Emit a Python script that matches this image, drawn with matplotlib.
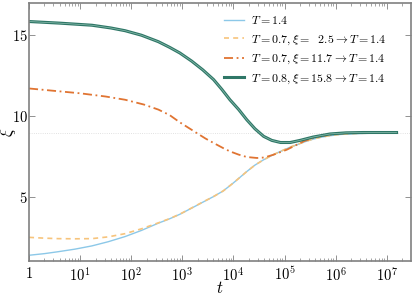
#!/usr/bin/env python3
"""Relaxation of the correlation length xi after a temperature quench to T = 1.4."""

import matplotlib

matplotlib.use("Agg")
import matplotlib.pyplot as plt
from matplotlib.ticker import FixedLocator, FuncFormatter, LogLocator, NullFormatter
import numpy as np

# log10(t) and xi
logt_eq = [0.0, 0.3, 0.57, 0.9, 1.23, 1.55, 1.88, 2.2, 2.53, 2.75, 2.95, 3.18, 3.4, 3.61, 3.8,
           4.0, 4.26, 4.42, 4.59, 4.75, 4.92, 5.08, 5.24, 5.4, 5.56, 5.72, 5.89, 6.1, 6.4, 6.8, 7.19]
xi_eq = [1.36, 1.46, 1.58, 1.74, 1.94, 2.2, 2.52, 2.9, 3.35, 3.62, 3.9, 4.28, 4.65, 5.0, 5.35,
         5.85, 6.55, 6.95, 7.28, 7.55, 7.8, 8.02, 8.21, 8.4, 8.56, 8.68, 8.77, 8.85, 8.9, 8.93, 8.94]

logt_q25 = [0.0, 0.3, 0.57, 0.9, 1.23, 1.55, 1.88, 2.2, 2.53, 2.75, 2.95, 3.18, 3.4, 3.61, 3.8,
            4.0, 4.26, 4.42, 4.59, 4.75, 4.92, 5.08, 5.24, 5.4, 5.56, 5.72, 5.89, 6.1, 6.4, 6.8, 7.19]
xi_q25 = [2.47, 2.42, 2.39, 2.38, 2.39, 2.5, 2.7, 3.0, 3.37, 3.63, 3.91, 4.29, 4.66, 5.0, 5.35,
          5.85, 6.55, 6.95, 7.28, 7.55, 7.8, 8.03, 8.22, 8.41, 8.57, 8.69, 8.78, 8.86, 8.91, 8.94, 8.95]

logt_q117 = [0.0, 0.5, 1.0, 1.5, 1.88, 2.25, 2.53, 2.75, 2.95, 3.2, 3.45, 3.61, 3.8, 3.93, 4.1,
             4.26, 4.46, 4.6, 4.78, 5.04, 5.2, 5.37, 5.55, 5.69, 6.02, 6.5, 7.19]
xi_q117 = [11.7, 11.55, 11.4, 11.2, 11.0, 10.7, 10.39, 10.05, 9.6, 9.1, 8.6, 8.32, 8.0, 7.8, 7.6,
           7.45, 7.39, 7.42, 7.59, 7.9, 8.15, 8.42, 8.62, 8.73, 8.9, 8.96, 8.96]

logt_q158 = [0.0, 0.6, 1.23, 1.6, 1.88, 2.2, 2.53, 2.75, 2.95, 3.18, 3.4, 3.61, 3.77, 3.93, 4.1,
             4.26, 4.42, 4.59, 4.75, 4.92, 5.11, 5.3, 5.56, 5.89, 6.2, 6.54, 7.19]
xi_q158 = [15.85, 15.75, 15.62, 15.45, 15.28, 15.0, 14.6, 14.25, 13.9, 13.4, 12.85, 12.25, 11.65,
           11.0, 10.4, 9.76, 9.2, 8.73, 8.48, 8.35, 8.35, 8.48, 8.69, 8.88, 8.95, 8.97, 8.97]

xi_ref = 8.95

labels = [
    r"$T = 1.4$",
    r"$T = 0.7, \xi =\ \ 2.5 \rightarrow T = 1.4$",
    r"$T = 0.7, \xi = 11.7 \rightarrow T = 1.4$",
    r"$T = 0.8, \xi = 15.8 \rightarrow T = 1.4$",
]
x_ticks = [1, 1e1, 1e2, 1e3, 1e4, 1e5, 1e6, 1e7]
y_ticks = [5, 10, 15]

plt.rcParams["mathtext.fontset"] = "cm"
plt.rcParams["font.family"] = "DejaVu Serif"

fig = plt.figure(figsize=(4.15, 2.97), dpi=100)
ax = fig.add_axes([0.070, 0.121, 0.920, 0.869])

ax.axhline(xi_ref, color="#D8D8D8", lw=0.6, ls=":", zorder=1)

t = lambda lt: 10 ** np.asarray(lt)
(l1,) = ax.plot(t(logt_eq), xi_eq, color="#8CC8E8", lw=1.0, label=labels[0])
(l2,) = ax.plot(t(logt_q25), xi_q25, color="#F7C47C", lw=1.2, ls=(0, (3, 2.5)), label=labels[1])
(l3,) = ax.plot(t(logt_q117), xi_q117, color="#E07432", lw=1.3, ls=(0, (5, 2, 1, 2)), label=labels[2])
(l4,) = ax.plot(t(logt_q158), xi_q158, color="#2F7767", lw=2.2, label=labels[3])
ax.plot(t(logt_q158), xi_q158, color="#8DBFB0", lw=0.5)

ax.set_xscale("log")
ax.set_xlim(1, 2.95e7)
ax.set_ylim(1, 17)

ax.xaxis.set_major_locator(FixedLocator(x_ticks))
ax.xaxis.set_minor_locator(LogLocator(base=10, subs=np.arange(2, 10), numticks=20))
ax.xaxis.set_minor_formatter(NullFormatter())
ax.xaxis.set_major_formatter(
    FuncFormatter(lambda v, p: "$1$" if v == 1 else r"$10^{%d}$" % round(np.log10(v)))
)
ax.yaxis.set_major_locator(FixedLocator(y_ticks))
ax.yaxis.set_major_formatter(FuncFormatter(lambda v, p: "$%d$" % v))

ax.tick_params(which="both", direction="in", top=True, right=True, color="#808080", labelsize=10.5)
ax.tick_params(which="major", length=4, width=0.6)
ax.tick_params(which="minor", length=2, width=0.5)
ax.tick_params(axis="y", pad=1)
for spine in ax.spines.values():
    spine.set_color("#808080")
    spine.set_linewidth(1.2)

ax.set_xlabel(r"$t$", fontsize=12)
ax.set_ylabel(r"$\xi$", fontsize=12)
ax.xaxis.set_label_coords(0.5, -0.075)
ax.yaxis.set_label_coords(-0.029, 0.5)

ax.legend(
    handles=[l1, l2, l3, l4],
    loc="upper right",
    bbox_to_anchor=(0.955, 0.985),
    frameon=False,
    fontsize=8.6,
    handlelength=1.7,
    handletextpad=0.55,
    labelspacing=0.45,
    borderaxespad=0.2,
)

fig.savefig("out.png", dpi=100)
